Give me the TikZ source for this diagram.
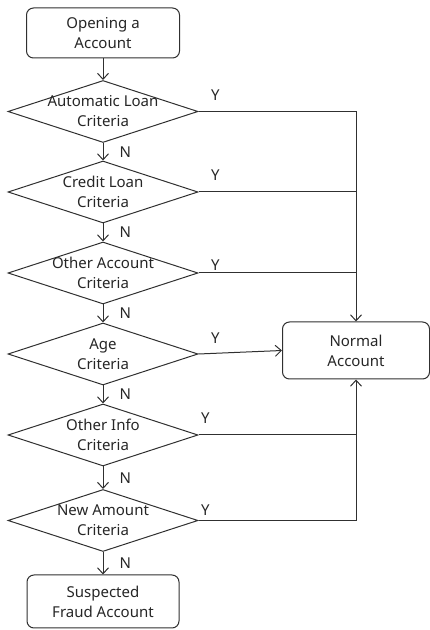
\documentclass[tikz,border=0pt]{standalone}
\usepackage{fontspec}
\setmainfont{Noto Sans}
\usetikzlibrary{shapes.geometric, arrows.meta}

\begin{document}
\begin{tikzpicture}[x=1pt, y=1pt,
    every node/.style={font=\fontsize{15}{20}\selectfont, text=black!85},
    boxNode/.style={draw=borderColour, line width=1pt, rounded corners=7pt, align=center, inner sep=0pt},
    decisionNode/.style={diamond, draw=borderColour, line width=1pt, minimum width=190pt, minimum height=62pt, inner sep=0pt},
    criteriaText/.style={align=center, inner sep=0pt},
    answerLabel/.style={inner sep=0pt},
    flowLine/.style={draw=borderColour, line width=1pt},
    flowArrow/.style={flowLine, -{Straight Barb[length=6pt, width=11pt]}}]

    % Define colours
    \definecolor{borderColour}{HTML}{303030}

    % Fix the page size
    \useasboundingbox (0,0) rectangle (430,630);

    % Start and end boxes
    \node[boxNode, minimum width=153pt, minimum height=50pt] (open) at (103,597) {Opening a\\Account};
    \node[boxNode, minimum width=152pt, minimum height=53pt] (fraud) at (103,28.5) {Suspected\\Fraud Account};
    \node[boxNode, minimum width=147pt, minimum height=57pt] (normal) at (356,279.5) {Normal\\Account};

    % Draw the criteria diamonds
    \foreach \name/\ypos/\txt in {d1/518.5/{Automatic Loan\\Criteria}, d2/438/{Credit Loan\\Criteria},
        d3/357/{Other Account\\Criteria}, d4/276/{Age\\Criteria}, d5/195/{Other Info\\Criteria},
        d6/109.5/{New Amount\\Criteria}}
    {
        \node[decisionNode] (\name) at (103,\ypos) {};
        \node[criteriaText] (\name text) at (\name) {\txt};
    }

    % No branches
    \draw[flowArrow] (open) -- (d1);
    \foreach \a/\b in {d1/d2, d2/d3, d3/d4, d4/d5, d5/d6, d6/fraud}
        \draw[flowArrow] (\a) -- (\b) node[midway, right, answerLabel, xshift=16pt] {N};

    % Yes branches into the normal account
    \draw[flowArrow] (d1.east) -| (normal.north) node[pos=0, anchor=south west, answerLabel, xshift=12pt, yshift=10pt] {Y};
    \foreach \d/\dx/\dy in {d2/12/11, d3/12/2}
        \draw[flowLine] (\d.east) -- (\d.east -| normal.north) node[pos=0, anchor=south west, answerLabel, xshift=\dx pt, yshift=\dy pt] {Y};
    \draw[flowArrow] (d4.east) -- (normal.west) node[pos=0, anchor=south west, answerLabel, xshift=12pt, yshift=10pt] {Y};
    \draw[flowLine] (d5.east) -- (d5.east -| normal.south) node[pos=0, anchor=south west, answerLabel, xshift=2pt, yshift=11pt] {Y};
    \draw[flowArrow] (d6.east) -| (normal.south) node[pos=0, anchor=south west, answerLabel, xshift=2pt, yshift=4pt] {Y};

\end{tikzpicture}
\end{document}
